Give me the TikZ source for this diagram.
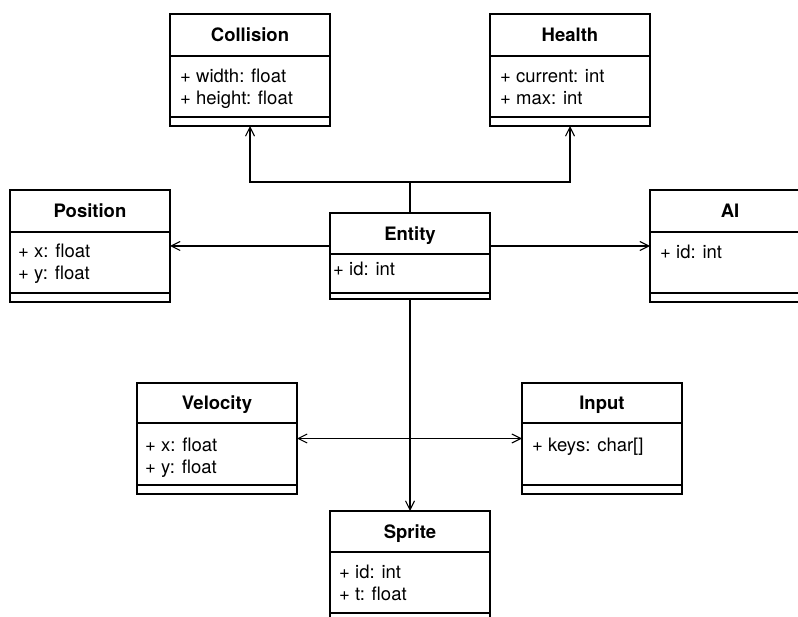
\documentclass[tikz,border=0pt]{standalone}
\usepackage{fontspec}
\setmainfont{TeX Gyre Heros}
\usetikzlibrary{arrows.meta,calc}
\tikzset{
  classbox/.style={draw, line width=1.3pt, minimum width=160pt, inner sep=0pt, outer sep=0pt},
  divider/.style={line width=1.3pt},
  plainline/.style={line width=1.3pt},
  conn/.style={line width=1.3pt, -{Straight Barb[length=9pt,width=9pt,line width=1.1pt]}},
  classtitle/.style={font=\fontsize{18.5}{22}\selectfont\bfseries, inner sep=0pt, anchor=base},
  attr/.style={font=\fontsize{18.5}{22}\selectfont, inner sep=0pt, anchor=base west},
}
% #1 name, #2 x, #3 top y, #4 header h, #5 attr h, #6 method h, #7 title
\newcommand\umlclass[7]{%
  \node[classbox, anchor=north west, minimum height={(#4+#5+#6)*1pt}] (#1) at (#2,#3) {};
  \draw[divider] ($(#1.north west)+(0,#4)$) -- ($(#1.north east)+(0,#4)$);
  \draw[divider] ($(#1.north west)+(0,#4+#5)$) -- ($(#1.north east)+(0,#4+#5)$);
  \node[classtitle] (#1-title) at ($(#1.north)+(0,#4/2+6.6)$) {#7};
}
\begin{document}
\begin{tikzpicture}[x=1pt,y=-1pt]
\useasboundingbox (0,0) rectangle (798,617);
\clip (0,0) rectangle (798,617);
\fill[white] (0,0) rectangle (798,617);

\umlclass{collision}{170}{14}{42}{61}{9}{Collision}
\node[attr] (collision-a1) at (180,83) {+ width: float};
\node[attr] (collision-a2) at (180,105) {+ height: float};

\umlclass{health}{490}{14}{42}{61}{9}{Health}
\node[attr] (health-a1) at (500,83) {+ current: int};
\node[attr] (health-a2) at (500,105) {+ max: int};

\umlclass{position}{10}{190}{42}{61}{9}{Position}
\node[attr] (position-a1) at (18,258) {+ x: float};
\node[attr] (position-a2) at (18,280) {+ y: float};

\umlclass{ai}{650}{190}{42}{61}{9}{AI}
\node[attr] (ai-a1) at (660,259) {+ id: int};

\umlclass{entity}{330}{213}{41}{39}{6}{Entity}
\node[attr] (entity-a1) at (333,276) {+ id: int};

\umlclass{velocity}{137}{383}{40}{62}{9}{Velocity}
\node[attr] (velocity-a1) at (145,451) {+ x: float};
\node[attr] (velocity-a2) at (145,473) {+ y: float};

\umlclass{input}{522}{383}{40}{62}{9}{Input}
\node[attr] (input-a1) at (532,452) {+ keys: char[]};

\umlclass{sprite}{330}{511}{41}{61}{9}{Sprite}
\node[attr] (sprite-a1) at (339,578) {+ id: int};
\node[attr] (sprite-a2) at (339,600) {+ t: float};

% connectors
\coordinate (bus) at (410,182);
\draw[plainline] (entity.north) -- (bus);
\draw[conn] (bus) -| (collision.south);
\draw[conn] (bus) -| (health.south);

\draw[conn] (entity.west |- position.east) -- (position.east);
\draw[conn] (entity.east |- ai.west) -- (ai.west);

\draw[conn] (entity.south) -- (sprite.north);

\coordinate (cross) at (entity.south |- velocity.east);
\draw[conn] (cross) -- (velocity.east);
\draw[conn] (cross) -- (input.west);
\end{tikzpicture}
\end{document}
